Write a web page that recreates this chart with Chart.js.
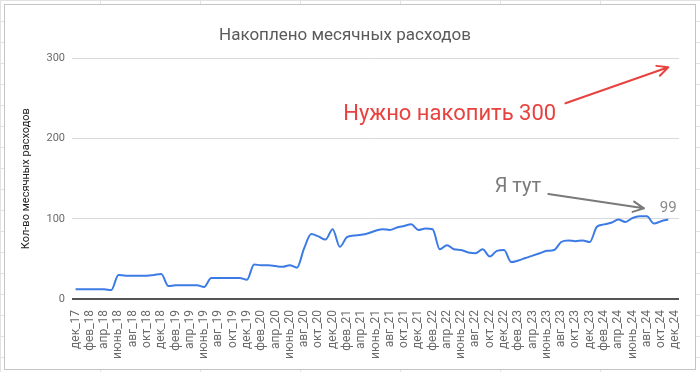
<!DOCTYPE html>
<html>
<head>
<meta charset="utf-8">
<script src="https://cdn.jsdelivr.net/npm/chart.js@4.4.1/dist/chart.umd.min.js"></script>
<style>
  html, body { margin: 0; padding: 0; }
  body {
    width: 700px; height: 372px; overflow: hidden; position: relative;
    background-color: #fff;
    background-image:
      linear-gradient(to right, #e2e2e2 1px, transparent 1px),
      linear-gradient(to bottom, #e2e2e2 1px, transparent 1px);
    background-size: 100px 21px;
  }
  #box {
    position: absolute; left: 4px; top: 4px; width: 690px; height: 364px;
    border: 1px solid #c4c4c4; background: #fff;
  }
</style>
</head>
<body>
<div id="box"><canvas id="savingsChart" width="690" height="364"></canvas></div>
<script>
// месяцы: дек_17 ... дек_24
const monthNames = ['дек', 'янв', 'фев', 'мар', 'апр', 'май', 'июнь', 'июль', 'авг', 'сен', 'окт', 'ноя'];
const months = [];
for (let i = 0; i < 85; i++) {
    const year = 17 + Math.floor(i / 12) + (i % 12 === 0 ? 0 : 1);
    months.push(monthNames[i % 12] + '_' + year);
}

// накоплено месячных расходов (последний месяц пустой)
const saved = [
    12, 12, 12, 12, 12, 11, 30, 29, 29, 29, 29, 30,
    31, 16, 17, 17, 17, 17, 15, 26, 26, 26, 26, 26,
    24, 43, 42, 42, 41, 40, 42, 39, 63, 81, 78, 74,
    87, 65, 77, 79, 80, 82, 85, 87, 86, 89, 91, 93,
    86, 88, 87, 62, 67, 62, 61, 58, 57, 62, 53, 60,
    61, 46, 48, 51, 54, 57, 60, 61, 71, 73, 72, 73,
    71, 90, 93, 95, 99, 96, 101, 103, 103, 94, 97, 99,
    null
];

const yTicks = [0, 100, 200, 300];

const notes = {
    id: 'notes',
    afterDatasetsDraw(chart) {
        const { ctx, scales: { x, y } } = chart;
        const px = v => x.getPixelForValue(v);
        const py = v => y.getPixelForValue(v);

        function arrow(x1, y1, x2, y2, color) {
            const a = Math.atan2(y2 - y1, x2 - x1);
            const h = 12;
            ctx.save();
            ctx.strokeStyle = color;
            ctx.lineWidth = 2;
            ctx.lineCap = 'round';
            ctx.lineJoin = 'round';
            ctx.beginPath();
            ctx.moveTo(x1, y1);
            ctx.lineTo(x2, y2);
            ctx.moveTo(x2 - h * Math.cos(a - 0.45), y2 - h * Math.sin(a - 0.45));
            ctx.lineTo(x2, y2);
            ctx.lineTo(x2 - h * Math.cos(a + 0.45), y2 - h * Math.sin(a + 0.45));
            ctx.stroke();
            ctx.restore();
        }

        ctx.save();
        // последнее значение
        const last = saved.length - 2;
        ctx.fillStyle = '#8a8a8a';
        ctx.font = '15px Roboto';
        ctx.textAlign = 'center';
        ctx.textBaseline = 'bottom';
        ctx.fillText(String(saved[last]), px(last), py(saved[last]) - 4);

        // цель
        ctx.fillStyle = '#e8423f';
        ctx.font = '22px Roboto';
        ctx.textAlign = 'right';
        ctx.textBaseline = 'middle';
        ctx.fillText('Нужно накопить 300', px(67.3), py(230));
        arrow(px(68.6), py(244), px(83), py(289), '#e8423f');

        // текущая точка
        ctx.fillStyle = '#7a7a7a';
        ctx.font = '20px Roboto';
        ctx.textAlign = 'right';
        ctx.fillText('Я тут', px(65.2), py(140));
        arrow(px(66.2), py(131), px(79.6), py(113), '#7a7a7a');
        ctx.restore();
    }
};

const ctxSavings = document.getElementById('savingsChart').getContext('2d');
const savingsChart = new Chart(ctxSavings, {
    type: 'line',
    data: {
        labels: months,
        datasets: [{
            label: 'Накоплено',
            data: saved,
            borderColor: '#3c7be4',
            borderWidth: 2,
            pointRadius: 0,
            tension: 0.4,
            cubicInterpolationMode: 'monotone',
            fill: false
        }]
    },
    options: {
        responsive: false,
        animation: false,
        layout: { padding: { left: 6, right: 16, top: 0, bottom: 7 } },
        plugins: {
            legend: { display: false },
            tooltip: { enabled: false },
            title: {
                display: true,
                text: 'Накоплено месячных расходов',
                color: '#5a5a5a',
                font: { family: 'Roboto', size: 17, weight: 'normal' },
                padding: { top: 21, bottom: 12 }
            }
        },
        scales: {
            x: {
                offset: true,
                grid: { display: false },
                border: { display: false },
                ticks: {
                    autoSkip: false,
                    maxRotation: 90,
                    minRotation: 90,
                    padding: 3,
                    color: '#6a6a6a',
                    font: { family: 'Roboto', size: 12 },
                    callback: (v, i) => (i % 2 === 0 ? months[i] : '')
                }
            },
            y: {
                min: 0,
                max: 300,
                afterFit: s => { s.width = 61; },
                afterBuildTicks: s => { s.ticks = yTicks.map(v => ({ value: v })); },
                border: { display: false },
                grid: {
                    drawTicks: false,
                    color: ctx => (ctx.tick.value === 0 ? '#555' : '#dadada'),
                    lineWidth: ctx => (ctx.tick.value === 0 ? 2 : 1)
                },
                ticks: {
                    padding: 7,
                    color: '#6a6a6a',
                    font: { family: 'Roboto', size: 11 }
                },
                title: {
                    display: true,
                    text: 'Кол-во месячных расходов',
                    color: '#222',
                    font: { family: 'Roboto', size: 11 },
                    padding: { top: 9, bottom: 0 }
                }
            }
        }
    },
    plugins: [notes]
});
</script>
</body>
</html>
